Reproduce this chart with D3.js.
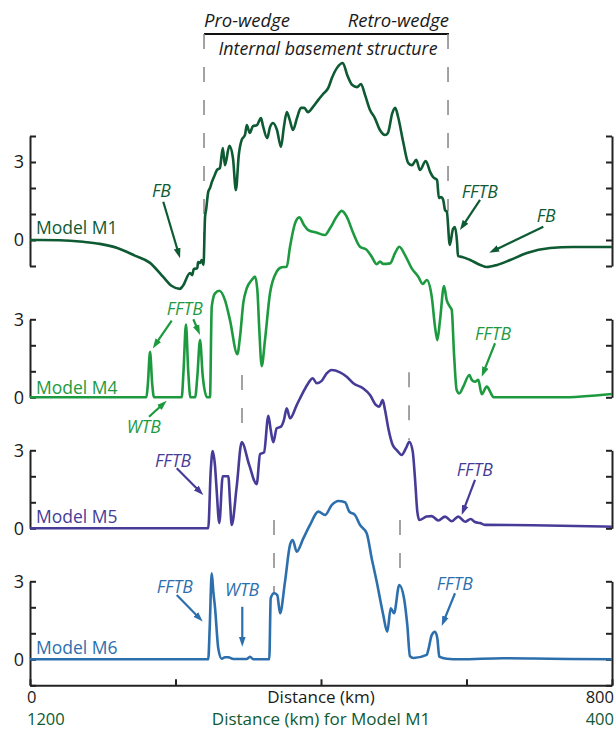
<!DOCTYPE html>
<html>
<head>
<meta charset="utf-8">
<script src="https://cdn.jsdelivr.net/npm/d3@7"></script>
<style>
  html, body { margin: 0; padding: 0; background: #fff; }
  svg { display: block; font-family: "Open Sans", "Noto Sans", sans-serif; }
</style>
</head>
<body>
<svg id="chart" width="616" height="733"></svg>
<script>
// Surface topography profiles (km elevation) along the section.
// Model M1 is given in its own distance frame (1200 -> 400 km), the rest in 0 -> 800 km.
const m1Profile = [
  [1200,0],[1159,-0.01],[1127,-0.07],[1104,-0.15],[1080,-0.31],[1056,-0.6],[1035,-0.88],
  [1017,-1.42],[1005,-1.77],[994,-1.88],[990,-1.77],[980,-1.27],[977,-1.35],[975,-1.12],
  [970,-1.08],[969,-0.85],[966,-0.88],[964,-0.77],[961.5,-0.96],[959.4,0.88],[958,1.15],
  [955,1.85],[952.6,2.0],[950,2.23],[946,2.5],[943,2.69],[939,2.77],[935,3.54],[932,2.88],
  [926,3.62],[921,3.15],[917,1.92],[913,3.27],[909,3.85],[904.5,4.04],[902,4.42],[898,4.12],
  [893.5,4.38],[888,4.42],[882.5,4.69],[880,4.42],[874,3.92],[870,4.35],[866,4.5],[860.5,4.23],
  [855,3.58],[851,4.35],[847,4.92],[843,4.62],[838.5,4.23],[833,4.69],[827.5,5.08],[823,5.08],
  [818,4.92],[811,5.12],[804,5.38],[797,5.62],[790,5.85],[785,6.23],[778,6.62],[770,6.81],
  [764,6.35],[757,5.96],[750.5,5.88],[745,6.0],[739.5,5.58],[732.6,5.0],[726,4.69],[719,4.23],
  [712,4.04],[708,4.12],[702,4.88],[698,5.08],[694,4.73],[687,3.77],[680,2.96],[675,2.88],
  [669,3.08],[664,2.69],[656,3.04],[650,2.62],[646,2.42],[640.5,2.31],[638,1.62],[635,1.65],
  [632,1.54],[629.5,1.15],[627,1.08],[623,-0.19],[618.6,0.42],[616,0.5],[613,-0.08],
  [611.7,-0.62],[606,-0.65],[595,-0.77],[581,-0.96],[572,-1.04],[558,-0.96],[540,-0.77],
  [517,-0.5],[485,-0.31],[454,-0.27],[400,-0.27]
];

const m4Profile = [
  [0,0],[160,0],[162,0.5],[165,1.75],[168,0.5],[170.5,0],[208.5,0],[211,1.0],[214.4,2.8],
  [217.5,1.0],[220.5,0],[227,0],[230,0.8],[233.7,2.2],[237.5,0.8],[243.5,0],[247.4,0],
  [249.8,3.48],[254.3,4.0],[260.2,4.1],[268,3.74],[274.9,2.97],[285,1.66],[288.7,2.33],
  [293.2,3.63],[297.9,4.19],[304.8,4.51],[309.3,4.64],[312.5,4.13],[315.2,2.59],[318.5,1.2],
  [323,2.2],[329.9,4.0],[339.1,4.83],[346,5.0],[352.9,5.02],[357.4,5.79],[364.3,6.69],
  [370.2,6.92],[376.6,6.63],[382.5,6.43],[394.1,6.33],[405.5,6.24],[412.4,6.5],[421.6,6.95],
  [428.5,7.17],[435.3,6.95],[444.4,6.31],[453.6,5.79],[462.8,5.67],[469.7,5.41],[476.6,5.12],
  [481.1,5.22],[485.6,5.13],[494.9,5.15],[501.7,5.54],[507.6,5.79],[515.5,5.47],[524.7,4.96],
  [533.7,4.64],[539.8,4.36],[545.3,4.51],[552.2,3.87],[556.7,2.72],[559.9,2.2],[563.6,2.97],
  [569.1,4.28],[572.8,3.74],[577.3,3.48],[579.7,3.36],[582.8,1.69],[586.5,0.28],[590.1,0.15],
  [595.6,0.41],[603.9,0.86],[607.2,0.67],[611.7,0.6],[616.2,0.67],[620.9,0.12],[627.8,0.41],
  [634.6,0.1],[637,0],[728,0],[800,0.13]
];

const m5Profile = [
  [0,0],[245,0],[248.4,2.2],[251.1,2.97],[254.3,2.4],[256.5,1.5],[260.2,0.2],[264.9,2.0],
  [272.6,2.0],[275,1.0],[277.3,0.13],[284.1,1.6],[291,3.31],[301.4,2.43],[311.6,1.7],
  [316.2,2.85],[321.7,2.92],[327.6,4.33],[330.9,3.78],[334.4,3.31],[339.1,3.85],[345,3.91],
  [349.1,4.17],[352.9,4.62],[357.4,4.23],[366.6,4.74],[375.7,5.25],[382.5,5.58],[388.6,5.77],
  [394.1,5.58],[401,5.67],[407.8,5.96],[414.7,6.09],[426.1,6.0],[435.3,5.83],[444.4,5.58],
  [458.1,5.38],[467.4,5.13],[475.6,4.74],[480.1,4.68],[484.8,4.93],[488,4.55],[492.5,3.85],
  [498.6,3.2],[504.1,3.01],[510.9,2.82],[516.8,3.08],[521.4,3.33],[526.1,2.95],[529.2,1.92],
  [532.4,0.64],[535.1,0.32],[545.3,0.45],[552.2,0.47],[561.3,0.3],[570.5,0.45],[579.7,0.27],
  [588.7,0.45],[598,0.25],[605.8,0.36],[611.7,0.24],[618.6,0.2],[625.4,0.13],[691.4,0.12],
  [800,0.06]
];

const m6Profile = [
  [0,0],[245,0],[247,1.2],[249.8,3.31],[252,2.6],[254.3,2.0],[258.8,0.42],[263.5,0.02],
  [268,0.08],[272.6,0.08],[279.5,0.01],[297.9,0.01],[302.4,0.1],[306.9,0],[328.9,0],
  [330.9,2.35],[335.4,2.54],[339.9,2.47],[343.7,1.77],[350.5,2.98],[357.4,4.4],[361.1,4.59],
  [366.6,4.14],[375.7,4.65],[384.9,5.17],[396.3,5.68],[405.5,5.55],[414.7,5.93],[423.8,6.09],
  [433,6.04],[438.9,5.68],[446.7,5.55],[453.6,5.17],[462.8,4.85],[469.7,3.88],[476.6,2.98],
  [485.6,1.7],[491.1,1.06],[495.8,1.96],[500.4,1.77],[507.6,2.86],[514.1,2.35],[518.6,1.32],
  [522.3,0.12],[526.9,0.05],[545.3,0.17],[547.5,0.36],[552.2,0.93],[556.7,1.06],[559.9,0.81],
  [562.6,0.1],[572.8,0.02],[591.1,0],[650,0.04],[691.8,0.03],[740,0.01],[800,0]
];

// Axis ticks
const distTicks = [0, 200, 400, 600, 800];
const distEndLabels = ["0", "800"];
const m1EndLabels = ["1200", "400"];
const heightLabels = [0, 3];

// Wedge boundaries (dashed markers) per model frame: [x, topHeight, bottomHeight]
const m1Bounds = [[960.8, 7.92, 0.0], [625.4, 7.92, 1.1]];
const m5Bounds = [[291.4, 5.9, 3.3], [521.0, 6.0, 3.4]];
const m6Bounds = [[335.4, 5.36, 2.5], [508.6, 5.36, 2.8]];

// Feature annotations: label anchor and arrow (tail -> head), in [distance, height]
const m1Notes = [
  { text: "FB",   at: [1032.3, 1.65], from: [1016.8, 1.47], to: [993.8, -0.70] },
  { text: "FFTB", at: [606.6, 1.62],  from: [581.4, 1.54],  to: [609.0, 0.38] },
  { text: "FB",   at: [503.5, 0.69],  from: [494.4, 0.51],  to: [568.7, -0.49] }
];
const m4Notes = [
  { text: "FFTB", at: [187.9, 3.17], from: [194.8, 2.95], to: [168.7, 1.88] },
  { text: null,                     from: [224.5, 3.0],  to: [233.7, 2.4] },
  { text: "WTB",  at: [132.9, -1.37], from: [163.6, -0.75], to: [187.9, -0.13] },
  { text: "FFTB", at: [611.7, 2.2],  from: [639.2, 2.08], to: [620.9, 0.79] }
];
const m5Notes = [
  { text: "FFTB", at: [171.8, 2.36], from: [201.7, 2.31], to: [238.2, 1.28] },
  { text: "FFTB", at: [586.5, 2.01], from: [611.7, 1.86], to: [593.4, 0.51] }
];
const m6Notes = [
  { text: "FFTB", at: [174.2, 2.55], from: [201.7, 2.47], to: [237.4, 1.45] },
  { text: "WTB",  at: [268.0, 2.43], from: [291.8, 2.02], to: [291.8, 0.48] },
  { text: "FFTB", at: [559.0, 2.67], from: [584.2, 2.54], to: [565.9, 1.28] }
];

// ---------------------------------------------------------------------------
const svg = d3.select("#chart");
const left = 30, right = 612, unit = 26;

const x = d3.scaleLinear().domain([0, 800]).range([left, right]);
const xM1 = d3.scaleLinear().domain([1200, 400]).range([left, right]);

const panels = [
  { label: "Model M1", data: m1Profile, xs: xM1, zero: 240,   lo: -1, hi: 4, color: "#0e5a33", notes: m1Notes, bounds: m1Bounds, labelH: 0.25 },
  { label: "Model M4", data: m4Profile, xs: x,   zero: 397.3, lo: 0,  hi: 3, color: "#1d9a3f", notes: m4Notes, bounds: [],       labelH: 0.14 },
  { label: "Model M5", data: m5Profile, xs: x,   zero: 528.3, lo: 0,  hi: 3, color: "#463c98", notes: m5Notes, bounds: m5Bounds, labelH: 0.21 },
  { label: "Model M6", data: m6Profile, xs: x,   zero: 659.3, lo: -1, hi: 3, color: "#2d6fad", notes: m6Notes, bounds: m6Bounds, labelH: 0.21 }
];
panels.forEach(p => {
  p.y = d3.scaleLinear().domain([0, 1]).range([p.zero, p.zero - unit]);
});

const defs = svg.append("defs");
panels.forEach((p, i) => {
  defs.append("marker")
    .attr("id", "head" + i)
    .attr("viewBox", "0 0 10 8")
    .attr("refX", 4).attr("refY", 4)
    .attr("markerWidth", 10).attr("markerHeight", 8)
    .attr("markerUnits", "userSpaceOnUse")
    .attr("orient", "auto")
    .append("path").attr("d", "M0,0.6 L10,4 L0,7.4 Z").attr("fill", p.color);
});

const axisColor = "#222";
function styleAxis(g) {
  g.selectAll(".domain").attr("stroke", axisColor).attr("stroke-width", 2);
  g.selectAll(".tick line").attr("stroke", axisColor).attr("stroke-width", 2);
  g.selectAll(".tick text").attr("fill", "#1a1a1a")
    .style("font-size", "18px").style("font-family", '"Open Sans", sans-serif');
}

// Header bracket
const hdrY = 34;
const hdr = svg.append("g");
hdr.append("line")
  .attr("x1", xM1(m1Bounds[0][0])).attr("x2", xM1(m1Bounds[1][0]) + 1)
  .attr("y1", hdrY).attr("y2", hdrY)
  .attr("stroke", "#111").attr("stroke-width", 2);
hdr.append("text").attr("x", xM1(m1Bounds[0][0])).attr("y", 27)
  .attr("font-style", "italic").attr("font-size", 18.5).attr("fill", "#1a1a1a").text("Pro-wedge");
hdr.append("text").attr("x", xM1(m1Bounds[1][0]) + 1).attr("y", 27).attr("text-anchor", "end")
  .attr("font-style", "italic").attr("font-size", 18.5).attr("fill", "#1a1a1a").text("Retro-wedge");
hdr.append("text").attr("x", (xM1(m1Bounds[0][0]) + xM1(m1Bounds[1][0])) / 2 + 2).attr("y", 55)
  .attr("text-anchor", "middle")
  .attr("font-style", "italic").attr("font-size", 17.8).attr("fill", "#1a1a1a").text("Internal basement structure");

// Dashed wedge-boundary markers
panels.forEach(p => {
  p.bounds.forEach(b => {
    const top = p === panels[0] ? hdrY : p.y(b[1]);
    svg.append("line")
      .attr("x1", p.xs(b[0])).attr("x2", p.xs(b[0]))
      .attr("y1", top).attr("y2", p.y(b[2]))
      .attr("stroke", "#8c8c8c").attr("stroke-width", 1.6)
      .attr("stroke-dasharray", "15,18");
  });
});

// Axes for each panel
panels.forEach(p => {
  const ticks = d3.range(p.lo, p.hi + 1);
  const yAx = d3.scaleLinear().domain([p.lo, p.hi]).range([p.y(p.lo), p.y(p.hi)]);
  svg.append("g").attr("transform", `translate(${left},0)`)
    .call(d3.axisLeft(yAx).tickValues(ticks).tickSizeInner(-6).tickSizeOuter(0).tickPadding(6)
      .tickFormat(d => heightLabels.includes(d) ? d : ""))
    .call(styleAxis);
  svg.append("g").attr("transform", `translate(${right},0)`)
    .call(d3.axisRight(yAx).tickValues(ticks).tickSizeInner(-6).tickSizeOuter(0).tickFormat(""))
    .call(styleAxis);
});

// Distance axis along the bottom
const baseY = panels[3].y(-1);
svg.append("g").attr("transform", `translate(0,${baseY})`)
  .call(d3.axisBottom(x).tickValues(distTicks).tickSizeInner(-6).tickSizeOuter(0).tickFormat(""))
  .call(styleAxis);

const m1Green = panels[0].color;
const axFont = 16.5;
const row1 = baseY + 18, row2 = baseY + 39.5;
svg.append("text").attr("x", x(0) - 3).attr("y", row1).attr("font-size", axFont).attr("fill", "#1a1a1a").text(distEndLabels[0]);
svg.append("text").attr("x", x(800) + 2).attr("y", row1).attr("text-anchor", "end").attr("font-size", axFont).attr("fill", "#1a1a1a").text(distEndLabels[1]);
svg.append("text").attr("x", xM1(1200) - 3).attr("y", row2).attr("font-size", axFont).attr("fill", m1Green).text(m1EndLabels[0]);
svg.append("text").attr("x", xM1(400) + 2).attr("y", row2).attr("text-anchor", "end").attr("font-size", axFont).attr("fill", m1Green).text(m1EndLabels[1]);
svg.append("text").attr("x", x(400)).attr("y", row1).attr("text-anchor", "middle").attr("font-size", 17).attr("fill", "#1a1a1a").text("Distance (km)");
svg.append("text").attr("x", x(400)).attr("y", row2).attr("text-anchor", "middle").attr("font-size", 17).attr("fill", m1Green).text("Distance (km) for Model M1");

// Profiles, labels and annotations
panels.forEach((p, i) => {
  const line = d3.line()
    .x(d => p.xs(d[0]))
    .y(d => p.y(d[1]))
    .curve(d3.curveMonotoneX);

  svg.append("path").datum(p.data)
    .attr("d", line)
    .attr("fill", "none")
    .attr("stroke", p.color)
    .attr("stroke-width", 2.6)
    .attr("stroke-linejoin", "round");

  svg.append("text")
    .attr("x", left + 6).attr("y", p.y(p.labelH))
    .attr("font-size", 17.5).attr("fill", p.color)
    .text(p.label);

  p.notes.forEach(n => {
    if (n.text) {
      svg.append("text")
        .attr("x", p.xs(n.at[0])).attr("y", p.y(n.at[1]))
        .attr("font-size", 17.5).attr("font-style", "italic").attr("fill", p.color)
        .text(n.text);
    }
    const x0 = p.xs(n.from[0]), y0 = p.y(n.from[1]);
    const x1 = p.xs(n.to[0]), y1 = p.y(n.to[1]);
    const len = Math.hypot(x1 - x0, y1 - y0);
    const k = (len - 6) / len;
    svg.append("line")
      .attr("x1", x0).attr("y1", y0)
      .attr("x2", x0 + (x1 - x0) * k).attr("y2", y0 + (y1 - y0) * k)
      .attr("stroke", p.color).attr("stroke-width", 2.2)
      .attr("marker-end", `url(#head${i})`);
  });
});
</script>
</body>
</html>
